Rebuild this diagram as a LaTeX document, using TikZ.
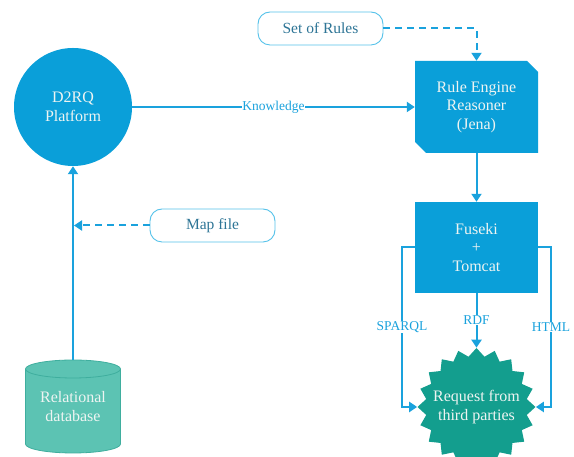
\documentclass[tikz,border=0pt]{standalone}
\usepackage{fontspec}
\setmainfont{Liberation Serif}
\usetikzlibrary{arrows.meta,shapes.misc,shapes.geometric,calc}
\definecolor{mainblue}{HTML}{0A9FD9}
\definecolor{lineblue}{HTML}{1AA2DD}
\definecolor{starteal}{HTML}{139E8E}
\definecolor{dbfill}{HTML}{5CC3B3}
\definecolor{dbline}{HTML}{3FAE9E}
\definecolor{boxline}{HTML}{55C2EA}
\definecolor{boxtext}{HTML}{2E7596}
\definecolor{lighttext}{HTML}{EEF4F2}
\begin{document}
\begin{tikzpicture}[x=1pt,y=1pt,
  every node/.style={inner sep=0pt},
  big/.style={font=\fontsize{16}{18.5}\selectfont, text=lighttext, align=center},
  flow/.style={draw=lineblue, line width=2pt, -{Triangle[width=10pt,length=8pt]}},
  dflow/.style={flow, dash pattern=on 7pt off 5pt},
  elabel/.style={font=\fontsize{13.5}{15}\selectfont, text=lineblue, fill=white, inner sep=0.6pt},
  softbox/.style={draw=boxline, line width=0.9pt, rounded corners=12pt, fill=white,
    minimum width=125pt, minimum height=33pt, font=\fontsize{15.5}{18}\selectfont, text=boxtext},
  bluebox/.style={big, fill=mainblue, minimum width=123pt, minimum height=92pt}
]
\clip (0,0) rectangle (574,457);
\fill[white] (0,0) rectangle (574,457);

% cylinder
\fill[dbfill] (25.5,88) -- (25.5,13) arc[start angle=180,end angle=360,x radius=47.5,y radius=9]
  -- (120.5,88) arc[start angle=0,end angle=180,x radius=47.5,y radius=9] -- cycle;
\draw[dbline, line width=0.8pt] (25.5,88) -- (25.5,13) arc[start angle=180,end angle=360,x radius=47.5,y radius=9]
  -- (120.5,88) arc[start angle=0,end angle=360,x radius=47.5,y radius=9];

\node[big, minimum width=95pt, minimum height=93pt] (db) at (73,50.5) {Relational\\database};
\node[big, circle, fill=mainblue, minimum size=118pt] (d2rq) at (73,350) {D2RQ\\Platform};
\node[bluebox, chamfered rectangle, chamfered rectangle corners={north east,south west},
  chamfered rectangle xsep=5.5pt, chamfered rectangle ysep=5.5pt] (rule) at (476.5,350) {Rule Engine\\Reasoner\\(Jena)};
\node[softbox] (rules) at (320.5,428.5) {Set of Rules};
\node[bluebox, minimum height=91pt] (fuseki) at (476.5,209.5) {Fuseki\\+\\Tomcat};
\node[softbox] (mapfile) at (212.5,231.5) {Map file};
\node[star, star points=20, star point ratio=1.16, fill=starteal, minimum size=118pt,
  label={[big]center:Request from\\third parties}] (star) at (476.5,50) {};

\coordinate (spl) at (402,209.5);
\coordinate (htm) at (551,209.5);

\draw[flow] (db.north) -- (d2rq.south);
\draw[dflow, shorten >=1pt] (mapfile.west) -- (mapfile.west -| d2rq.center);
\draw[flow] (d2rq.east) -- node[elabel]{Knowledge} (rule.west);
\draw[dflow] (rules.east) -| (rule.north);
\draw[flow] (rule.south) -- (fuseki.north);
\draw[flow] (fuseki.south) -- node[elabel]{RDF} (star.north);
\draw[flow] (fuseki.west) -- (spl) |- node[elabel,pos=0.25]{SPARQL} (star.west);
\draw[flow] (fuseki.east) -- (htm) |- node[elabel,pos=0.25]{HTML} (star.east);
\end{tikzpicture}
\end{document}
